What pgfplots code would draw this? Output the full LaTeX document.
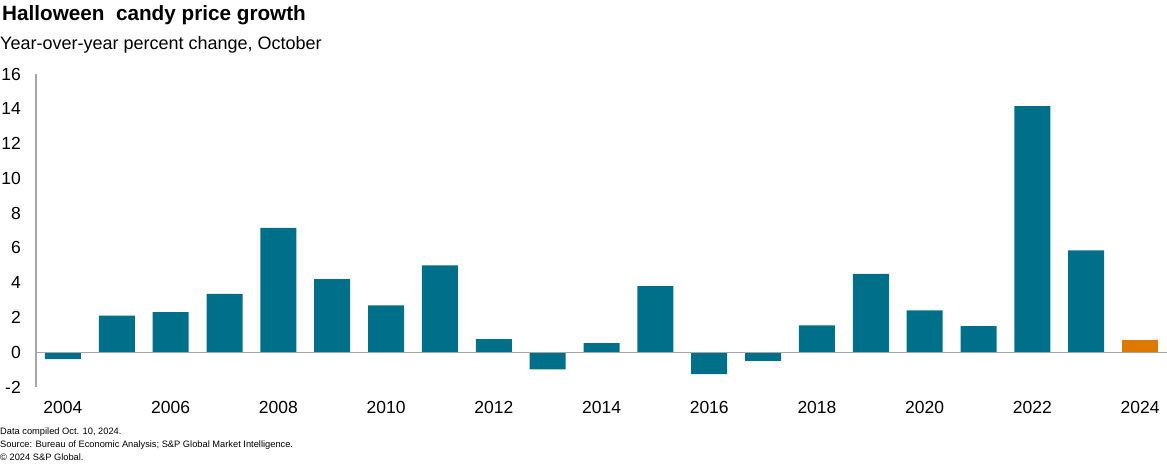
\documentclass[border=0pt]{standalone}
\usepackage{fontspec}
\setmainfont{Liberation Sans}
\usepackage{pgfplots}
\pgfplotsset{compat=1.18}
\definecolor{barteal}{RGB}{0,111,138}
\definecolor{barorange}{RGB}{221,120,0}
\definecolor{axgray}{RGB}{166,166,166}
\begin{document}
\begin{tikzpicture}
\path[use as bounding box] (-36bp,-77bp) rectangle (1131bp,387bp);
\begin{axis}[
  scale only axis,
  width=1131bp, height=313bp,
  xmin=2003.5, xmax=2024.5,
  ymin=-2, ymax=16,
  enlargelimits=false,
  ybar, bar width=36bp, bar shift=0pt,
  axis x line*=bottom,
  axis y line*=left,
  x axis line style={draw=none, -},
  y axis line style={draw=axgray, line width=1.2pt, -},
  xtick={2004,2006,...,2024},
  xticklabels={2004,2006,2008,2010,2012,2014,2016,2018,2020,2022,2024},
  ytick={-2,0,2,4,6,8,10,12,14,16},
  yticklabels={-2,0,2,4,6,8,10,12,14,16},
  major tick length=0pt,
  tick style={draw=none},
  xticklabel style={font=\fontsize{17.5bp}{20bp}\selectfont, text=black, anchor=north, inner sep=0pt, yshift=-14.5bp},
  yticklabel style={font=\fontsize{17.5bp}{20bp}\selectfont, text=black, anchor=east, inner sep=0pt, xshift=-15bp},
  clip=false,
]
\addplot[draw=none, fill=barteal] coordinates {
 (2004,-0.4) (2005,2.1) (2006,2.3) (2007,3.35) (2008,7.15)
 (2009,4.2) (2010,2.7) (2011,5.0) (2012,0.75) (2013,-0.98)
 (2014,0.52) (2015,3.8) (2016,-1.26) (2017,-0.5) (2018,1.55)
 (2019,4.5) (2020,2.4) (2021,1.5) (2022,14.15) (2023,5.86)
};
\addplot[draw=none, fill=barorange] coordinates {(2024,0.7)};
\draw[axgray, line width=1.2pt] (axis cs:2003.5,0) -- (axis cs:2024.5,0);
\end{axis}
\node[anchor=base west, inner sep=0pt, font=\bfseries\fontsize{20.7bp}{24bp}\selectfont] at (-34bp,366bp) {Halloween\ \ candy price growth};
\node[anchor=base west, inner sep=0pt, font=\fontsize{18bp}{21bp}\selectfont] at (-36bp,337bp) {Year-over-year percent change, October};
\node[anchor=base west, inner sep=0pt, font=\fontsize{9.3bp}{11bp}\selectfont] at (-36bp,-47bp) {Data compiled Oct. 10, 2024.};
\node[anchor=base west, inner sep=0pt, font=\fontsize{9.3bp}{11bp}\selectfont] at (-36bp,-60.5bp) {Source: Bureau of Economic Analysis; S\&P Global Market Intelligence.};
\node[anchor=base west, inner sep=0pt, font=\fontsize{9.3bp}{11bp}\selectfont] at (-36bp,-73bp) {© 2024 S\&P Global.};
\end{tikzpicture}
\end{document}
